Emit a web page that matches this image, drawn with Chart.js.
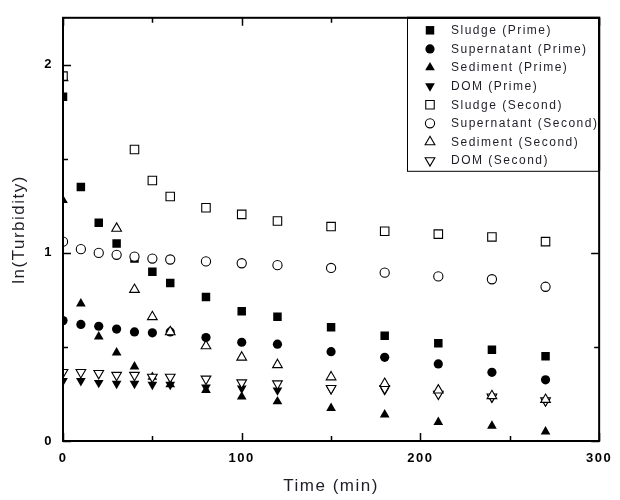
<!DOCTYPE html>
<html>
<head>
<meta charset="utf-8">
<script src="https://cdn.jsdelivr.net/npm/chart.js@4/dist/chart.umd.min.js"></script>
<style>
  html, body { margin: 0; padding: 0; background: #fff; }
  #wrap { width: 620px; height: 500px; }
</style>
</head>
<body>
<div id="wrap"><canvas id="chart" width="620" height="500"></canvas></div>
<script>
// sampling times (min)
const times = [0, 10, 20, 30, 40, 50, 60, 80, 100, 120, 150, 180, 210, 240, 270];

// ln(turbidity)
const sludgePrime      = [1.83, 1.35, 1.16, 1.05, 0.97, 0.90, 0.84, 0.765, 0.69, 0.66, 0.605, 0.56, 0.52, 0.485, 0.45];
const supernatantPrime = [0.64, 0.62, 0.61, 0.595, 0.58, 0.575, 0.58, 0.55, 0.525, 0.515, 0.475, 0.445, 0.41, 0.365, 0.325];
const sedimentPrime    = [1.28, 0.73, 0.555, 0.47, 0.395, 0.34, 0.30, 0.27, 0.235, 0.21, 0.175, 0.14, 0.10, 0.08, 0.05];
const domPrime         = [0.32, 0.32, 0.31, 0.305, 0.305, 0.30, 0.30, 0.285, 0.28, 0.27, 0.275, 0.27, 0.25, 0.23, 0.21];
const sludgeSecond      = [1.94, null, null, null, 1.55, 1.385, 1.30, 1.24, 1.205, 1.17, 1.14, 1.115, 1.10, 1.085, 1.06];
const supernatantSecond = [1.06, 1.02, 1.00, 0.99, 0.98, 0.97, 0.965, 0.955, 0.945, 0.935, 0.92, 0.895, 0.875, 0.86, 0.82];
const sedimentSecond    = [1.93, null, null, 1.13, 0.805, 0.66, 0.58, 0.505, 0.445, 0.405, 0.34, 0.305, 0.27, 0.24, 0.22];
const domSecond         = [0.365, 0.365, 0.36, 0.35, 0.35, 0.34, 0.34, 0.33, 0.31, 0.305, 0.28, 0.28, 0.25, 0.235, 0.215];

const xTicks = [0, 100, 200, 300];
const xMinor = [50, 150, 250];
const yTicks = [0, 1, 2];
const yMinor = [0.5, 1.5];

function pts(vals) {
  const out = [];
  vals.forEach((v, i) => { if (v !== null) out.push({ x: times[i], y: v }); });
  return out;
}

function series(label, vals, style, filled, rot) {
  const r = style === 'rect' ? 6 : (style === 'circle' ? 4.6 : 5.6);
  return {
    label: label,
    data: pts(vals),
    pointStyle: style,
    rotation: rot || 0,
    pointRadius: r,
    pointHoverRadius: r,
    backgroundColor: filled ? '#000' : '#fff',
    borderColor: '#000',
    borderWidth: filled ? 0 : 1.1,
    showLine: false,
    clip: 0,
    order: filled ? 1 : 0
  };
}

const datasets = [
  series('Sludge (Prime)', sludgePrime, 'rect', true),
  series('Supernatant (Prime)', supernatantPrime, 'circle', true),
  series('Sediment (Prime)', sedimentPrime, 'triangle', true),
  series('DOM (Prime)', domPrime, 'triangle', true, 180),
  series('Sludge (Second)', sludgeSecond, 'rect', false),
  series('Supernatant (Second)', supernatantSecond, 'circle', false),
  series('Sediment (Second)', sedimentSecond, 'triangle', false),
  series('DOM (Second)', domSecond, 'triangle', false, 180)
];

const spacing = {
  id: 'spacing',
  beforeDraw(chart) { chart.ctx.letterSpacing = '1.5px'; }
};

const frame = {
  id: 'frame',
  afterDatasetsDraw(chart) {
    const ctx = chart.ctx;
    const a = chart.chartArea;
    const xs = chart.scales.x, ys = chart.scales.y;
    ctx.save();
    ctx.strokeStyle = '#000';
    ctx.lineWidth = 1.5;
    ctx.beginPath();
    const tick = (vals, len) => {
      vals.forEach(v => {
        const px = Math.round(xs.getPixelForValue(v)) + 0.5;
        ctx.moveTo(px, a.bottom); ctx.lineTo(px, a.bottom - len);
        ctx.moveTo(px, a.top); ctx.lineTo(px, a.top + len);
      });
    };
    const ytick = (vals, len) => {
      vals.forEach(v => {
        const py = Math.round(ys.getPixelForValue(v)) + 0.5;
        ctx.moveTo(a.left, py); ctx.lineTo(a.left + len, py);
        ctx.moveTo(a.right, py); ctx.lineTo(a.right - len, py);
      });
    };
    tick(xTicks, 8); tick(xMinor, 5);
    ytick(yTicks, 8); ytick(yMinor, 5);
    ctx.stroke();
    ctx.lineWidth = 2;
    ctx.strokeRect(a.left, a.top, a.right - a.left, a.bottom - a.top);

    // legend box, top right inside the plot
    const bx = 407, by = a.top, bw = a.right - 407, bh = 153;
    ctx.fillStyle = '#fff';
    ctx.fillRect(bx, by + 1, bw - 1, bh - 1);
    ctx.lineWidth = 1;
    ctx.strokeStyle = '#000';
    ctx.strokeRect(bx + 0.5, by + 0.5, bw - 1, bh);
    ctx.lineWidth = 2;
    ctx.beginPath(); ctx.moveTo(bx, a.top); ctx.lineTo(a.right, a.top); ctx.lineTo(a.right, by + bh); ctx.stroke();
    ctx.font = '12px "Liberation Sans", Arial, sans-serif';
    ctx.letterSpacing = '1.5px';
    ctx.textBaseline = 'middle';
    ctx.textAlign = 'left';
    chart.data.datasets.forEach((ds, i) => {
      const cy = by + 12.5 + i * 18.6;
      const cx = 430;
      ctx.fillStyle = ds.backgroundColor;
      ctx.strokeStyle = ds.borderColor;
      ctx.lineWidth = ds.borderWidth;
      Chart.helpers.drawPoint(ctx, {
        pointStyle: ds.pointStyle, radius: ds.pointRadius,
        rotation: ds.rotation, borderWidth: ds.borderWidth
      }, cx, cy);
      ctx.fillStyle = '#1e1e28';
      ctx.fillText(ds.label, 451, cy + 0.5);
    });
    ctx.restore();
  }
};

const tickFont = { family: '"Liberation Sans", Arial, sans-serif', size: 13, weight: 'bold' };
const titleFont = { family: '"Liberation Sans", Arial, sans-serif', size: 17 };

new Chart(document.getElementById('chart'), {
  type: 'scatter',
  data: { datasets: datasets },
  options: {
    responsive: false,
    animation: false,
    layout: { padding: { top: 13, right: 15, left: 0, bottom: 0 } },
    plugins: {
      legend: { display: false },
      tooltip: { enabled: false }
    },
    scales: {
      x: {
        type: 'linear',
        min: 0, max: 300,
        grid: { display: false, drawTicks: false },
        border: { display: false },
        ticks: { stepSize: 100, padding: 10, color: '#000', font: tickFont, maxRotation: 0 },
        title: { display: true, text: 'Time (min)', color: '#1e1e28', font: titleFont, padding: { top: 0, bottom: 3 } },
        afterFit(s) { s.height = 59; }
      },
      y: {
        type: 'linear',
        min: 0, max: 2.25,
        grid: { display: false, drawTicks: false },
        border: { display: false },
        ticks: { stepSize: 1, includeBounds: false, padding: 10, color: '#000', font: tickFont },
        title: { display: true, text: 'ln(Turbidity)', color: '#1e1e28', font: titleFont, padding: { top: 9, bottom: 0 } },
        afterFit(s) { s.width = 63; }
      }
    }
  },
  plugins: [spacing, frame]
});
</script>
</body>
</html>
